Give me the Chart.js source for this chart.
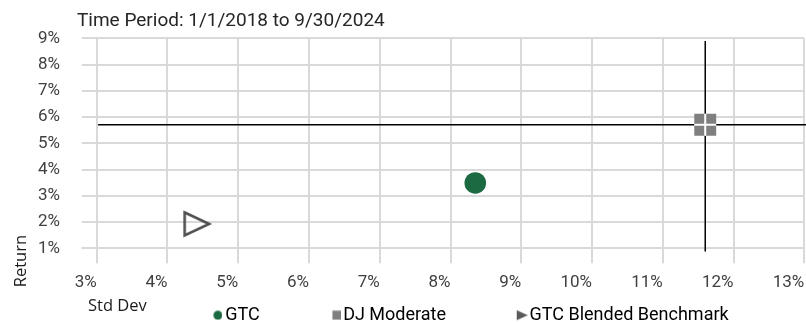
<!DOCTYPE html>
<html>
<head>
<meta charset="utf-8">
<script src="https://cdn.jsdelivr.net/npm/chart.js@4.4.1/dist/chart.umd.min.js"></script>
<style>
  html, body { margin: 0; padding: 0; background: #fff; }
</style>
</head>
<body>
<canvas id="riskReturn" width="806" height="323"></canvas>
<script>
// risk / return, 1/1/2018 - 9/30/2024
const seriesNames = ["GTC", "DJ Moderate", "GTC Blended Benchmark"];
const stdDev = [8.35, 11.6, 4.42];
const returns = [3.49, 5.71, 1.93];
const xTicks = [3, 4, 5, 6, 7, 8, 9, 10, 11, 12, 13];
const yTicks = [1, 2, 3, 4, 5, 6, 7, 8, 9];
// crosshair through DJ Moderate
const crossX = [3.02, 13.1];
const crossY = [0.88, 8.9];

const green = "#1b6a41";
const grey = "#7f7f7f";
const darkGrey = "#505050";
const titleColor = "#1a1a1a";

function makeCanvas(w, h, draw) {
  const c = document.createElement("canvas");
  c.width = w;
  c.height = h;
  draw(c.getContext("2d"));
  return c;
}

// hollow right-pointing triangle for the benchmark
const triangleMark = makeCanvas(30, 28, (ctx) => {
  ctx.strokeStyle = darkGrey;
  ctx.lineWidth = 2.6;
  ctx.beginPath();
  ctx.moveTo(2.5, 2.5);
  ctx.lineTo(27, 14);
  ctx.lineTo(2.5, 25.5);
  ctx.closePath();
  ctx.stroke();
});

// legend markers sit at the right end of a wide box, a = shift from box centre
function legendMark(a, s, draw) {
  return makeCanvas(2 * (a + s), 2 * s, (ctx) => draw(ctx, 2 * a + s, s));
}
const legendMarks = [
  legendMark(33.75, 5, (ctx, x, y) => {
    ctx.fillStyle = green;
    ctx.beginPath();
    ctx.arc(x, y, 4.5, 0, Math.PI * 2);
    ctx.fill();
  }),
  legendMark(34.75, 5, (ctx, x, y) => {
    ctx.fillStyle = grey;
    ctx.fillRect(x - 4.5, y - 4.5, 9, 9);
  }),
  legendMark(33.75, 6, (ctx, x, y) => {
    ctx.fillStyle = "#595959";
    ctx.beginPath();
    ctx.moveTo(x - 5.5, y - 5);
    ctx.lineTo(x + 5.5, y);
    ctx.lineTo(x - 5.5, y + 5);
    ctx.closePath();
    ctx.fill();
  }),
];

// Excel-style placement of the chart title, the legend row and the axis titles
const blockNudge = {
  id: "blockNudge",
  afterLayout(chart) {
    chart.titleBlock.left += 77;
    chart.titleBlock.right += 77;
    chart.legend.left += 38;
    chart.legend.right += 38;
  },
  afterDraw(chart) {
    const ctx = chart.ctx;
    const bottom = chart.chartArea.bottom;
    ctx.save();
    ctx.font = '16.5px "Open Sans"';
    ctx.fillStyle = titleColor;
    ctx.textAlign = "left";
    ctx.textBaseline = "middle";
    ctx.fillText("Std Dev", 88, bottom + 58.2);
    ctx.translate(21, bottom + 39);
    ctx.rotate(-Math.PI / 2);
    ctx.fillText("Return", 0, 0);
    ctx.restore();
  },
};

const gridColor = "#d9d9d9";
const tickFont = { family: "Roboto", size: 17 };

new Chart(document.getElementById("riskReturn"), {
  type: "scatter",
  data: {
    datasets: [
      {
        label: seriesNames[0],
        data: [{ x: stdDev[0], y: returns[0] }],
        pointStyle: "circle",
        pointRadius: 10.8,
        backgroundColor: green,
        borderWidth: 0,
        order: 1,
      },
      {
        label: seriesNames[1],
        data: [{ x: stdDev[1], y: returns[1] }],
        pointStyle: "rect",
        pointRadius: 15.5,
        backgroundColor: grey,
        borderWidth: 0,
        order: 5,
      },
      {
        label: seriesNames[2],
        data: [{ x: stdDev[2], y: returns[2] }],
        pointStyle: triangleMark,
        pointRadius: 13,
        order: 1,
      },
      {
        label: "cross",
        data: [{ x: stdDev[1], y: returns[1] }],
        pointStyle: "cross",
        pointRadius: 11,
        borderColor: "#ffffff",
        borderWidth: 2,
        order: 2,
      },
      {
        label: "h",
        data: [
          { x: crossX[0], y: returns[1] },
          { x: crossX[1], y: returns[1] },
        ],
        showLine: true,
        pointRadius: 0,
        borderColor: "#000000",
        borderWidth: 1.5,
        clip: 4,
        order: 10,
      },
      {
        label: "v",
        data: [
          { x: stdDev[1], y: crossY[0] },
          { x: stdDev[1], y: crossY[1] },
        ],
        showLine: true,
        pointRadius: 0,
        borderColor: "#000000",
        borderWidth: 1.5,
        clip: 4,
        order: 10,
      },
    ],
  },
  options: {
    responsive: false,
    animation: false,
    devicePixelRatio: 1,
    layout: {
      autoPadding: false,
      padding: { left: 0, right: 1.7, top: 0, bottom: -11.25 },
    },
    scales: {
      x: {
        type: "linear",
        min: xTicks[0],
        max: xTicks[xTicks.length - 1],
        afterBuildTicks: (scale) => {
          scale.ticks = xTicks.map((v) => ({ value: v }));
        },
        afterFit: (scale) => {
          scale.height = 47.95;
          scale.paddingRight = 0;
        },
        ticks: {
          align: "end",
          autoSkip: false,
          maxRotation: 0,
          padding: 9,
          color: "#404040",
          font: tickFont,
          callback: (v) => v + "%",
        },
        grid: { color: gridColor, lineWidth: 2, tickLength: 15 },
        border: { display: false },
      },
      y: {
        type: "linear",
        min: yTicks[0],
        max: yTicks[yTicks.length - 1],
        afterBuildTicks: (scale) => {
          scale.ticks = yTicks.map((v) => ({ value: v }));
        },
        afterFit: (scale) => {
          scale.width = 96.7;
        },
        ticks: {
          padding: 21.7,
          color: "#404040",
          font: tickFont,
          callback: (v) => v + "%",
        },
        grid: { color: gridColor, lineWidth: 2, tickLength: 15 },
        border: { display: false },
      },
    },
    plugins: {
      tooltip: { enabled: false },
      title: {
        display: true,
        text: "Time Period: 1/1/2018 to 9/30/2024",
        align: "start",
        color: "#262626",
        font: { family: "Roboto", size: 19, weight: "normal" },
        padding: { top: 9.8, bottom: 5.8 },
      },
      legend: {
        position: "bottom",
        labels: {
          usePointStyle: true,
          pointStyleWidth: 64.5,
          padding: 10,
          color: "#404040",
          font: { family: "Roboto", size: 18 },
          generateLabels: () =>
            seriesNames.map((name, i) => ({
              text: name,
              pointStyle: legendMarks[i],
              fillStyle: "transparent",
              strokeStyle: "transparent",
              lineWidth: 0,
              hidden: false,
              datasetIndex: i,
            })),
        },
      },
    },
  },
  plugins: [blockNudge],
});
</script>
</body>
</html>
